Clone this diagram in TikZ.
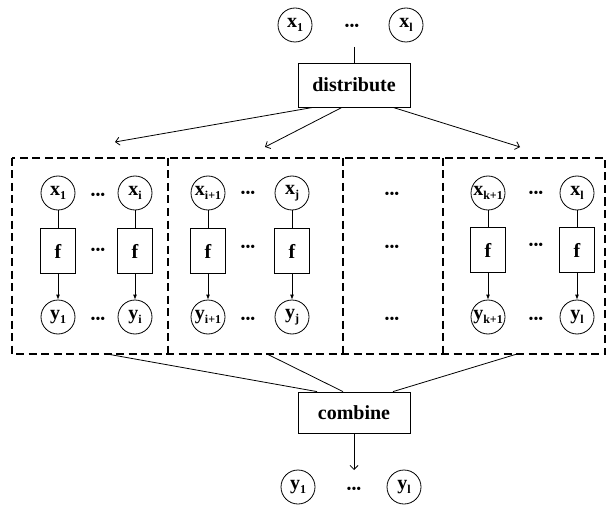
\documentclass[tikz,border=0pt]{standalone}
\usepackage{fontspec}
\setmainfont{Liberation Serif}
\usetikzlibrary{arrows.meta,calc}
\newcommand{\vv}[2]{\textbf{#1}\raisebox{-0.45ex}{\fontsize{12}{12}\selectfont\textbf{#2}}}
\begin{document}
\begin{tikzpicture}[x=1pt,y=-1pt,
  var/.style={circle,draw,line width=0.8pt,minimum size=34pt,inner sep=0pt,font=\fontsize{20}{20}\selectfont\bfseries},
  fbox/.style={draw,line width=0.8pt,minimum width=35pt,minimum height=45pt,inner sep=0pt,font=\fontsize{20}{20}\selectfont\bfseries},
  bigbox/.style={draw,line width=0.8pt,minimum width=112pt,inner sep=0pt,font=\fontsize{20}{20}\selectfont\bfseries},
  dotsn/.style={inner sep=0pt,font=\fontsize{14}{14}\selectfont},
  grp/.style={minimum height=196pt,inner sep=0pt,outer sep=0pt},
  grpline/.style={line width=2.4pt,dash pattern=on 8pt off 4.5pt},
  conn/.style={line width=0.8pt},
  arr/.style={conn,-{Straight Barb[length=4pt,width=8pt]}},
  farr/.style={conn,-{Latex[length=5pt,width=4pt]}}
]
\useasboundingbox (0,0) rectangle (610,505);

% top inputs
\node[var] (tx1) at (295,25) {\vv{x}{1}};
\node[dotsn] (tdots) at (352,27) {•••};
\node[var] (txl) at (406,25) {\vv{x}{l}};
\coordinate (tdl) at (354,47);

\node[bigbox,minimum height=44pt] (dist) at (354,85) {distribute};
\draw[conn] (tdl) -- (dist.north);

\coordinate (a1) at (115,142);
\coordinate (a2) at (265,147);
\coordinate (a3) at (520,147);
\draw[arr] ([xshift=-41pt]dist.south) -- (a1);
\draw[arr] ([xshift=-12pt]dist.south) -- (a2);
\draw[arr] ([xshift=39pt]dist.south) -- (a3);

% groups
\node[grp,minimum width=156pt] (g1) at (90,256) {};
\node[grp,minimum width=175pt] (g2) at (255.5,256) {};
\node[grp,minimum width=100pt] (g3) at (393,256) {};
\node[grp,minimum width=162pt] (g4) at (524,256) {};
\draw[grpline] (g1.north west) rectangle (g4.south east);
\draw[grpline] (g1.north east) -- (g1.south east);
\draw[grpline] (g2.north east) -- (g2.south east);
\draw[grpline] (g3.north east) -- (g3.south east);

% group 1
\node[var] (x1) at (58,193) {\vv{x}{1}};
\node[var] (xi) at (135,193) {\vv{x}{i}};
\node[fbox] (f1) at (58,251) {f};
\node[fbox] (fi) at (135,251) {f};
\node[var] (y1) at (58,317) {\vv{y}{1}};
\node[var] (yi) at (135,317) {\vv{y}{i}};
\node[dotsn] (d1a) at (98,196) {•••};
\node[dotsn] (d1b) at (98,251) {•••};
\node[dotsn] (d1c) at (98,320) {•••};

% group 2
\node[var] (xi1) at (208,193) {\vv{x}{i+1}};
\node[var] (xj) at (292,193) {\vv{x}{j}};
\node[fbox] (fi1) at (208,251) {f};
\node[fbox] (fj) at (292,251) {f};
\node[var] (yi1) at (208,317) {\vv{y}{i+1}};
\node[var] (yj) at (292,317) {\vv{y}{j}};
\node[dotsn] (d2a) at (248,194) {•••};
\node[dotsn] (d2b) at (248,248) {•••};
\node[dotsn] (d2c) at (248,320) {•••};

% group 3
\node[dotsn] (d3a) at (392,195) {•••};
\node[dotsn] (d3b) at (392,248) {•••};
\node[dotsn] (d3c) at (392,320) {•••};

% group 4
\node[var] (xk1) at (488,193) {\vv{x}{k+1}};
\node[var] (xl) at (577,193) {\vv{x}{l}};
\node[fbox] (fk1) at (488,250) {f};
\node[fbox] (fl) at (577,250) {f};
\node[var] (yk1) at (488,317) {\vv{y}{k+1}};
\node[var] (yl) at (577,317) {\vv{y}{l}};
\node[dotsn] (d4a) at (536,194) {•••};
\node[dotsn] (d4b) at (536,246) {•••};
\node[dotsn] (d4c) at (536,320) {•••};

\foreach \a/\b/\c in {x1/f1/y1, xi/fi/yi, xi1/fi1/yi1, xj/fj/yj, xk1/fk1/yk1, xl/fl/yl}{
  \draw[conn] (\a) -- (\b);
  \draw[farr] (\b) -- (\c);
}

% combine
\node[bigbox,minimum height=41pt] (comb) at (354,412.5) {combine};
\draw[conn] ([xshift=17pt]g1.south) -- ([xshift=-37pt]comb.north);
\draw[conn] ([xshift=11.5pt]g2.south) -- ([xshift=-11pt]comb.north);
\draw[conn] ([xshift=-7pt]g4.south) -- ([xshift=39pt]comb.north);

\coordinate (ca) at (354,470);
\draw[arr] (comb.south) -- (ca);

% outputs
\node[var] (by1) at (298,487) {\vv{y}{1}};
\node[dotsn] (bdots) at (354,490) {•••};
\node[var] (byl) at (404,487) {\vv{y}{l}};
\end{tikzpicture}
\end{document}
